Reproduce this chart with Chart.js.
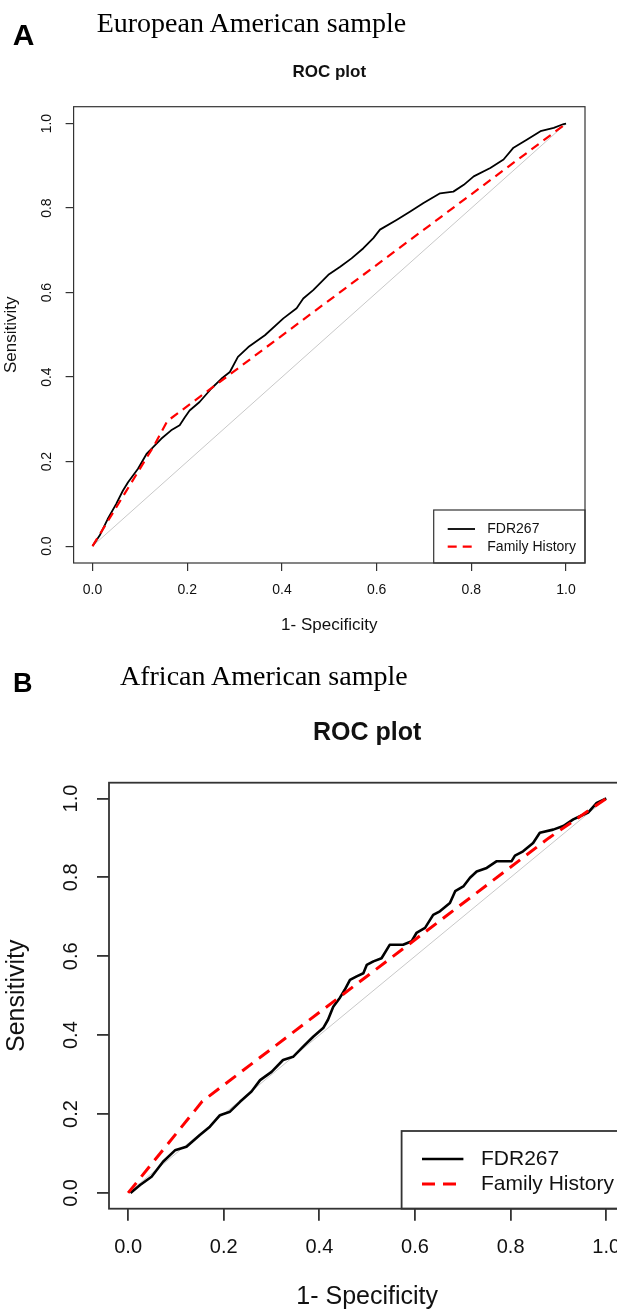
<!DOCTYPE html>
<html><head><meta charset="utf-8">
<script src="https://cdn.jsdelivr.net/npm/chart.js@4.4.1/dist/chart.umd.min.js"></script>
<style>
html,body{margin:0;padding:0;background:#fff;width:617px;height:1311px;overflow:hidden;position:relative}
canvas{position:absolute;left:0}
.lbl{position:absolute;font-family:"Liberation Sans",Arial,sans-serif;font-weight:bold;color:#000;line-height:1;white-space:nowrap}
.hd{position:absolute;font-family:"Liberation Serif","Times New Roman",serif;color:#000;line-height:1;white-space:nowrap}
</style></head><body>
<canvas id="cA" width="617" height="650" style="top:0;width:617px;height:650px"></canvas>
<canvas id="cB" width="640" height="680" style="top:650px;width:640px;height:680px"></canvas>
<div class="lbl" id="pA" style="left:12.7px;top:20.3px;font-size:30px"></div>
<div class="hd" id="hA" style="left:96.7px;top:9.3px;font-size:28px"></div>
<div class="lbl" id="pB" style="left:13px;top:669.8px;font-size:27px"></div>
<div class="hd" id="hB" style="left:120px;top:661.5px;font-size:28px"></div>
<script>
// ---- data ----
const panelLetters = ['A', 'B'];
const panelHeadings = ['European American sample', 'African American sample'];
const chartTitle = 'ROC plot';
const xTitle = '1- Specificity';
const yTitle = 'Sensitivity';
const seriesNames = ['FDR267', 'Family History'];
const tickValues = [0, 0.2, 0.4, 0.6, 0.8, 1.0];
const tickLabels = ['0.0', '0.2', '0.4', '0.6', '0.8', '1.0'];
const diagX = [0, 1];
const diagY = [0, 1];

// Panel A: European American sample
const fdrA_x = [0, 0.015, 0.032, 0.050, 0.064, 0.075, 0.096, 0.114, 0.128, 0.145, 0.166, 0.184, 0.195, 0.205, 0.226, 0.251, 0.272, 0.290, 0.307, 0.329, 0.364, 0.403, 0.431, 0.445, 0.466, 0.498, 0.523, 0.547, 0.572, 0.593, 0.607, 0.642, 0.671, 0.699, 0.734, 0.762, 0.784, 0.805, 0.840, 0.868, 0.889, 0.917, 0.946, 0.974, 0.995, 1];
const fdrA_y = [0, 0.025, 0.064, 0.100, 0.131, 0.151, 0.183, 0.218, 0.234, 0.254, 0.274, 0.286, 0.305, 0.321, 0.341, 0.373, 0.396, 0.412, 0.448, 0.471, 0.499, 0.539, 0.563, 0.586, 0.606, 0.642, 0.661, 0.681, 0.705, 0.729, 0.749, 0.772, 0.792, 0.812, 0.835, 0.839, 0.855, 0.875, 0.895, 0.915, 0.943, 0.962, 0.982, 0.990, 0.999, 1];
const famA_x = [0, 0.130, 0.158, 1];
const famA_y = [0, 0.238, 0.296, 1];

// Panel B: African American sample
const fdrB_x = [0.005, 0.025, 0.049, 0.073, 0.098, 0.122, 0.150, 0.171, 0.192, 0.213, 0.234, 0.258, 0.276, 0.300, 0.324, 0.345, 0.366, 0.387, 0.408, 0.418, 0.429, 0.443, 0.453, 0.464, 0.478, 0.492, 0.499, 0.513, 0.530, 0.547, 0.575, 0.593, 0.603, 0.621, 0.638, 0.652, 0.673, 0.684, 0.701, 0.715, 0.729, 0.750, 0.771, 0.802, 0.809, 0.826, 0.847, 0.861, 0.889, 0.910, 0.931, 0.945, 0.962, 0.980, 1.0];
const fdrB_y = [0, 0.020, 0.041, 0.079, 0.108, 0.117, 0.147, 0.168, 0.197, 0.206, 0.231, 0.257, 0.286, 0.307, 0.337, 0.345, 0.371, 0.396, 0.418, 0.439, 0.472, 0.495, 0.515, 0.540, 0.549, 0.557, 0.578, 0.587, 0.595, 0.629, 0.629, 0.638, 0.659, 0.672, 0.705, 0.714, 0.735, 0.765, 0.777, 0.799, 0.815, 0.824, 0.841, 0.841, 0.855, 0.866, 0.887, 0.913, 0.921, 0.930, 0.947, 0.955, 0.964, 0.989, 1.0];
const famB_x = [0, 0.155, 0.88, 1];
const famB_y = [0, 0.232, 0.90, 1];

// ---- rendering ----
document.getElementById('pA').textContent = panelLetters[0];
document.getElementById('pB').textContent = panelLetters[1];
document.getElementById('hA').textContent = panelHeadings[0];
document.getElementById('hB').textContent = panelHeadings[1];

const FONT = '"Liberation Sans", Arial, Helvetica, sans-serif';
const pts = (xs, ys) => xs.map((x, i) => ({x: x, y: ys[i]}));

const rocFrame = {
  id: 'rocFrame',
  afterDatasetsDraw(chart, args, o) {
    const ctx = chart.ctx, a = chart.chartArea;
    ctx.save();
    const lx = a.right - o.legendW, ly = a.bottom - o.legendH;
    ctx.fillStyle = '#fff';
    ctx.fillRect(lx, ly, o.legendW, o.legendH);
    ctx.strokeStyle = o.frameColor; ctx.lineWidth = o.frameWidth;
    ctx.strokeRect(lx, ly, o.legendW, o.legendH);
    const items = chart.data.datasets.filter(d => d.inLegend);
    items.forEach((d, i) => {
      const y = ly + o.rowY[i];
      ctx.beginPath();
      ctx.setLineDash(d.borderDash || []);
      ctx.strokeStyle = d.borderColor; ctx.lineWidth = d.borderWidth;
      ctx.moveTo(lx + o.sampleX0, y); ctx.lineTo(lx + o.sampleX1, y); ctx.stroke();
      ctx.setLineDash([]);
      ctx.fillStyle = o.textColor;
      ctx.font = o.fontSize + 'px ' + FONT;
      ctx.textBaseline = 'middle'; ctx.textAlign = 'left';
      ctx.fillText(d.label, lx + o.textX, y);
    });
    ctx.strokeStyle = o.frameColor; ctx.lineWidth = o.frameWidth;
    ctx.strokeRect(a.left, a.top, a.right - a.left, a.bottom - a.top);
    ctx.restore();
  }
};

function scaleCfg(axis, p) {
  const isX = axis === 'x';
  return {
    type: 'linear', min: -0.04, max: 1.04,
    afterBuildTicks: s => { s.ticks = tickValues.map(v => ({value: v})); },
    afterFit: s => { if (isX) s.height = p.xH; else s.width = p.yW; },
    grid: {drawOnChartArea: false, drawTicks: true, tickLength: p.tickLen, color: p.frameColor, lineWidth: p.frameWidth},
    border: {display: false},
    ticks: Object.assign({
      font: {family: FONT, size: p.tickSize}, color: p.textColor,
      padding: isX ? p.xTickPad : p.yTickPad,
      autoSkip: false,
      callback: (v, i) => tickLabels[i]
    }, isX ? {minRotation: 0, maxRotation: 0} : {minRotation: 90, maxRotation: 90, crossAlign: 'center'}),
    title: {display: true, text: isX ? xTitle : yTitle, font: {family: FONT, size: p.axTitleSize}, color: p.textColor,
            padding: isX ? {top: 0, bottom: 0} : {top: p.yTitlePad, bottom: 0}}
  };
}

function makeChart(id, fdrX, fdrY, famX, famY, p) {
  return new Chart(document.getElementById(id), {
    type: 'scatter',
    data: {datasets: [
      {label: seriesNames[0], data: pts(fdrX, fdrY), borderColor: '#000', borderWidth: p.blackW, showLine: true, pointRadius: 0, borderJoinStyle: 'round', order: 1, inLegend: true},
      {label: seriesNames[1], data: pts(famX, famY), borderColor: '#ff0000', borderWidth: p.redW, borderDash: p.dash, showLine: true, pointRadius: 0, order: 0, inLegend: true},
      {label: 'reference', data: pts(diagX, diagY), borderColor: '#c8c8c8', borderWidth: 1, showLine: true, pointRadius: 0, order: 2}
    ]},
    options: {
      responsive: false, animation: false, events: [],
      layout: {padding: {left: 0, right: p.padR, top: p.padT, bottom: p.padB}},
      scales: {x: scaleCfg('x', p), y: scaleCfg('y', p)},
      plugins: {
        legend: {display: false}, tooltip: {enabled: false},
        title: {display: true, text: chartTitle, fullSize: false, color: p.textColor,
                font: {family: FONT, size: p.titleSize, weight: 'bold'}, padding: {top: 0, bottom: p.titlePadB}},
        rocFrame: {legendW: p.legendW, legendH: p.legendH, sampleX0: p.sampleX0, sampleX1: p.sampleX1, textX: p.textX,
                   rowY: p.rowY, fontSize: p.legendSize, textColor: p.textColor, frameColor: p.frameColor, frameWidth: p.frameWidth}
      }
    },
    plugins: [rocFrame]
  });
}

makeChart('cA', fdrA_x, fdrA_y, famA_x, famA_y, {
  padT: 61.8, padR: 32, padB: 14.8, titleSize: 17, titlePadB: 24.5, xH: 72.2, yW: 73.6,
  tickLen: 8, tickSize: 14, xTickPad: 10.6, yTickPad: 8.9, axTitleSize: 17, yTitlePad: 1,
  textColor: '#111', frameColor: '#333', frameWidth: 1.2,
  legendW: 151.3, legendH: 53, sampleX0: 14, sampleX1: 41.3, textX: 53.6, rowY: [19, 36.7], legendSize: 14,
  blackW: 1.8, redW: 2.2, dash: [9, 6]
});
makeChart('cB', fdrB_x, fdrB_y, famB_x, famB_y, {
  padT: 67.7, padR: 14.6, padB: 17.6, titleSize: 25, titlePadB: 35, xH: 103.7, yW: 109,
  tickLen: 12, tickSize: 20, xTickPad: 15, yTickPad: 12.1, axTitleSize: 25, yTitlePad: 2,
  textColor: '#111', frameColor: '#333', frameWidth: 1.8,
  legendW: 223.8, legendH: 77.7, sampleX0: 20.4, sampleX1: 61.8, textX: 79.4, rowY: [28, 53], legendSize: 21,
  blackW: 2.6, redW: 3, dash: [13, 8]
});
</script>
</body></html>
